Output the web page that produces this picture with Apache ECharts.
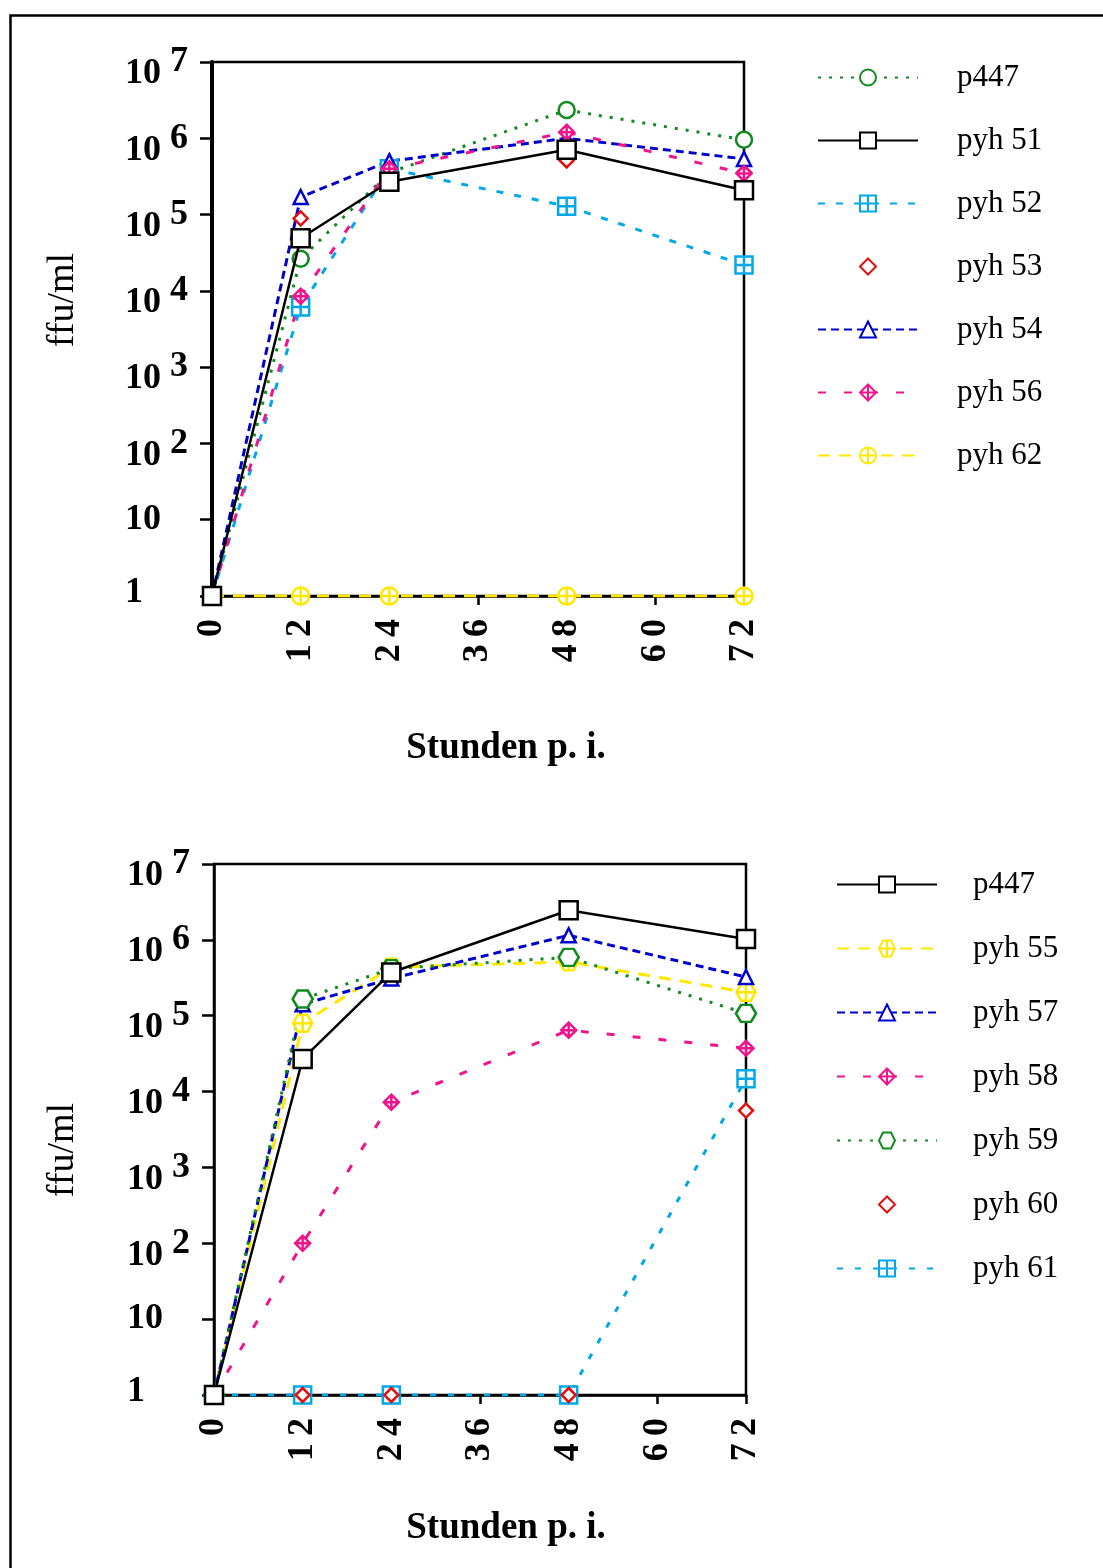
<!DOCTYPE html>
<html>
<head>
<meta charset="utf-8">
<script src="https://cdn.jsdelivr.net/npm/echarts@6/dist/echarts.min.js"></script>
<style>
html,body{margin:0;padding:0;background:#fff;}
#c{width:1103px;height:1568px;}
</style>
</head>
<body>
<div id="c"></div>
<script>
// ---- data (values are log10 of ffu/ml) ----
const hours = [0, 12, 24, 48, 72];
const xTickLabels = ['0', '12', '24', '36', '48', '60', '72'];
const yTickBase = ['1', '10', '10', '10', '10', '10', '10', '10'];
const yTickExp = ['', '', '2', '3', '4', '5', '6', '7'];
const yAxisTitle = 'ffu/ml';
const xAxisTitle = 'Stunden p. i.';

// top chart
const topNames = ['p447', 'pyh 51', 'pyh 52', 'pyh 53', 'pyh 54', 'pyh 56', 'pyh 62'];
const top_p447 = [0, 4.42, 5.55, 6.37, 5.98];
const top_pyh51 = [0, 4.69, 5.43, 5.85, 5.32];
const top_pyh52 = [0, 3.79, 5.60, 5.11, 4.34];
const top_pyh53 = [0, 4.95, 5.62, 5.71, 5.55];
const top_pyh54 = [0, 5.23, 5.70, 6.00, 5.73];
const top_pyh56 = [0, 3.93, 5.60, 6.08, 5.54];
const top_pyh62 = [0, 0, 0, 0, 0];

// bottom chart
const botNames = ['p447 ', 'pyh 55', 'pyh 57', 'pyh 58', 'pyh 59', 'pyh 60', 'pyh 61'];
const bot_p447 = [0, 4.43, 5.57, 6.39, 6.01];
const bot_pyh55 = [0, 4.90, 5.64, 5.71, 5.31];
const bot_pyh57 = [0, 5.15, 5.49, 6.06, 5.51];
const bot_pyh58 = [0, 2.00, 3.86, 4.81, 4.57];
const bot_pyh59 = [0, 5.22, 5.62, 5.77, 5.03];
const bot_pyh60 = [0, 0, 0, 0, 3.75];
const bot_pyh61 = [0, 0, 0, 0, 4.17];

// ---- styles ----
const GREEN = '#118a1f', BLACK = '#000000', CYAN = '#00a8e8', RED = '#e01010',
      BLUE = '#0000cc', PINK = '#f0148c', YELLOW = '#ffe800';
const SERIF = '"Liberation Serif", "Times New Roman", serif';

const SYM = {
  circle: 'circle',
  square: 'rect',
  crossSquare: 'path://M0,0H20V20H0Z M10,0V20 M0,10H20',
  diamond: 'diamond',
  triangle: 'triangle',
  crossDiamond: 'path://M10,0L20,10L10,20L0,10Z M10,0V20 M0,10H20',
  crossCircle: 'path://M0,10A10,10,0,1,1,20,10A10,10,0,1,1,0,10Z M10,0V20 M0,10H20',
  crossHex: 'path://M5,0H15L20,9L15,18H5L0,9Z M10,0V18 M0,9H20',
  hex: 'path://M5,0H15L20,9L15,18H5L0,9Z'
};

function pairs(vals) { return hours.map((h, i) => [h, vals[i]]); }

function mk(name, vals, idx, color, symbol, size, line, z) {
  return {
    name: name, type: 'line', xAxisIndex: idx, yAxisIndex: idx,
    data: pairs(vals), symbol: symbol, symbolSize: size,
    showAllSymbol: true, z: z || 2,
    itemStyle: { color: '#ffffff', borderColor: color, borderWidth: 2.5 },
    lineStyle: line ? Object.assign({ color: color, width: 3 }, line) : { color: color, width: 0, opacity: 0 },
    emphasis: { disabled: true },
    animation: false
  };
}

const series = [
  mk(topNames[0], top_p447, 0, GREEN, SYM.circle, 16, { type: [3, 8], width: 3 }),
  mk(topNames[1], top_pyh51, 0, BLACK, SYM.square, 18, { type: 'solid', width: 2.5 }, 4),
  mk(topNames[2], top_pyh52, 0, CYAN, SYM.crossSquare, 17, { type: [7, 11] }),
  mk(topNames[3], top_pyh53, 0, RED, SYM.diamond, 14, null),
  mk(topNames[4], top_pyh54, 0, BLUE, SYM.triangle, 14, { type: [8, 5] }),
  mk(topNames[5], top_pyh56, 0, PINK, SYM.crossDiamond, 15, { type: [8, 18] }),
  mk(topNames[6], top_pyh62, 0, YELLOW, SYM.crossCircle, 17, { type: [12, 9] }),

  mk(botNames[0], bot_p447, 1, BLACK, SYM.square, 18, { type: 'solid', width: 2.5 }, 4),
  mk(botNames[1], bot_pyh55, 1, YELLOW, SYM.crossHex, [19, 17], { type: [12, 9] }),
  mk(botNames[2], bot_pyh57, 1, BLUE, SYM.triangle, 14, { type: [8, 5] }),
  mk(botNames[3], bot_pyh58, 1, PINK, SYM.crossDiamond, 15, { type: [8, 18] }),
  mk(botNames[4], bot_pyh59, 1, GREEN, SYM.hex, [20, 17], { type: [3, 8], width: 3 }),
  mk(botNames[5], bot_pyh60, 1, RED, SYM.diamond, 14, null, 3),
  mk(botNames[6], bot_pyh61, 1, CYAN, SYM.crossSquare, 17, { type: [6, 12] })
];

function xAxis(idx) {
  return {
    type: 'value', gridIndex: idx, min: 0, max: 72, interval: 12,
    axisLine: { show: true, onZero: false, lineStyle: { color: '#000', width: 2.5 } },
    axisTick: { show: true, inside: false, length: 9, lineStyle: { color: '#000', width: 2.5 } },
    splitLine: { show: false },
    axisLabel: {
      rotate: 90, margin: 23, color: '#000', fontFamily: SERIF, fontWeight: 'bold', fontSize: 36,
      formatter: (v) => {
        const i = Math.round(v / 12);
        return xTickLabels[i].split('').join('\u2009');
      }
    }
  };
}
function yAxis(idx, lw) {
  const base = { fontFamily: SERIF, fontWeight: 'bold', fontSize: 36, color: '#000' };
  return {
    type: 'value', gridIndex: idx, min: 0, max: 7, interval: 1,
    axisLine: { show: true, onZero: false, lineStyle: { color: '#000', width: lw } },
    axisTick: { show: true, inside: false, length: 12, lineStyle: { color: '#000', width: 2.5 } },
    splitLine: { show: false },
    axisLabel: {
      margin: 87, align: 'left', color: '#000', fontFamily: SERIF, fontWeight: 'bold', fontSize: 36,
      formatter: (v) => {
        const i = Math.round(v);
        if (yTickExp[i]) return '{b|' + yTickBase[i] + '}{g| }{s|' + yTickExp[i] + '}';
        if (i === 0) return '{d|' + yTickBase[i] + '}{h| }';
        return '{c|' + yTickBase[i] + '}';
      },
      rich: {
        b: Object.assign({ lineHeight: 34, verticalAlign: 'bottom' }, base),
        g: Object.assign({ lineHeight: 60, verticalAlign: 'middle' }, base),
        s: Object.assign({ lineHeight: 36, verticalAlign: 'middle' }, base),
        c: Object.assign({ lineHeight: 36, verticalAlign: 'middle' }, base),
        d: Object.assign({ lineHeight: 36, verticalAlign: 'top' }, base),
        h: Object.assign({ lineHeight: 42, verticalAlign: 'middle' }, base)
      }
    }
  };
}

function legend(names, left, top, gap, textPad) {
  return {
    data: names, orient: 'vertical', left: left, top: top, padding: 0,
    itemWidth: 100, itemHeight: 20, itemGap: gap,
    selectedMode: false,
    textStyle: { fontFamily: SERIF, fontSize: 31, lineHeight: 31, color: '#000', padding: [0, 0, 0, textPad] }
  };
}

const chart = echarts.init(document.getElementById('c'), null, { renderer: 'canvas' });
chart.setOption({
  backgroundColor: '#ffffff',
  animation: false,
  grid: [
    { left: 212, top: 62, width: 532, height: 534, show: true, borderColor: '#000', borderWidth: 2.5, backgroundColor: 'transparent', containLabel: false },
    { left: 214, top: 864, width: 532, height: 531, show: true, borderColor: '#000', borderWidth: 2.5, backgroundColor: 'transparent', containLabel: false }
  ],
  xAxis: [xAxis(0), xAxis(1)],
  yAxis: [yAxis(0, 4), yAxis(1, 2.5)],
  legend: [legend(topNames, 817, 62, 32, 34), legend(botNames, 836, 869, 33, 31)],
  series: series,
  graphic: [
    { type: 'rect', left: 8, top: 13, shape: { width: 1200, height: 1600 }, style: { fill: 'none', stroke: '#000', lineWidth: 2.5 }, silent: true, z: -1 },
    { type: 'text', x: 63, y: 300, rotation: Math.PI / 2, style: { text: yAxisTitle, font: '38px ' + SERIF, fill: '#000', textAlign: 'center', textVerticalAlign: 'middle' } },
    { type: 'text', x: 63, y: 1150, rotation: Math.PI / 2, style: { text: yAxisTitle, font: '38px ' + SERIF, fill: '#000', textAlign: 'center', textVerticalAlign: 'middle' } },
    { type: 'text', x: 506, y: 748, style: { text: xAxisTitle, font: 'bold 37px ' + SERIF, fill: '#000', textAlign: 'center', textVerticalAlign: 'middle' } },
    { type: 'text', x: 506, y: 1528, style: { text: xAxisTitle, font: 'bold 37px ' + SERIF, fill: '#000', textAlign: 'center', textVerticalAlign: 'middle' } }
  ]
});
</script>
</body>
</html>
